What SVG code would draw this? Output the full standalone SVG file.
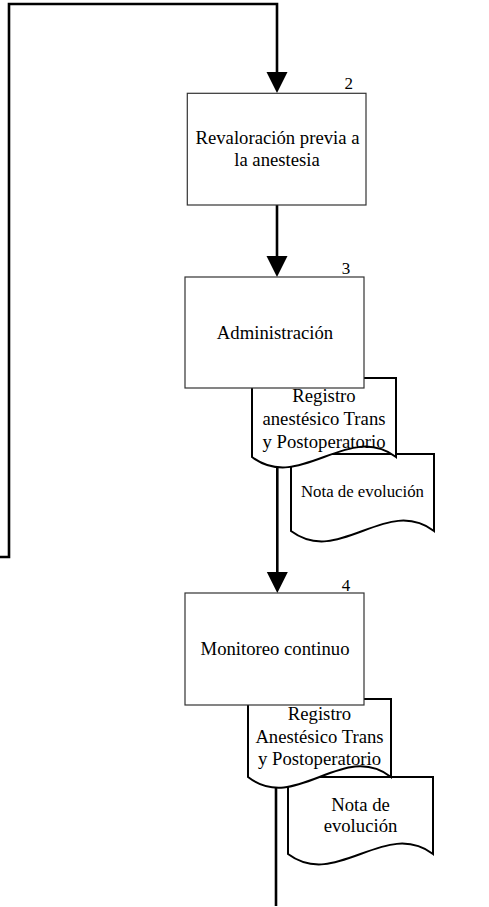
<svg xmlns="http://www.w3.org/2000/svg" width="489" height="907" viewBox="0 0 489 907">
  <style>
    .box { fill: #ffffff; stroke: #333333; stroke-width: 1.2; }
    .doc { fill: #ffffff; stroke: #000000; stroke-width: 2; stroke-linejoin: miter; }
    .flow { fill: none; stroke: #000000; stroke-width: 2.6; }
    .lbl { font-family: "Liberation Serif", "Times New Roman", serif; font-size: 18.7px; fill: #000000; text-anchor: middle; }
    .small { font-size: 16.8px; }
    .num { font-family: "Liberation Serif", "Times New Roman", serif; font-size: 17px; fill: #000000; text-anchor: middle; }
  </style>
  <defs>
    <marker id="arrow" markerUnits="userSpaceOnUse" markerWidth="22" markerHeight="22" refX="0" refY="10.5" orient="auto" viewBox="0 0 22 21">
      <path d="M0,0 L21,10.5 L0,21 Z" fill="#000000"/>
    </marker>
  </defs>

  <!-- connectors -->
  <g id="connectors">
    <polyline class="flow" points="0,557 9,557 9,4 277,4 277,72" marker-end="url(#arrow)"/>
    <line class="flow" x1="277" y1="205" x2="277" y2="256" marker-end="url(#arrow)"/>
    <line class="flow" x1="277.3" y1="388" x2="277.3" y2="572" marker-end="url(#arrow)"/>
    <line class="flow" x1="276" y1="705" x2="276" y2="906"/>
  </g>

  <!-- step 2 -->
  <g id="step2">
    <rect class="box" x="187.3" y="93.3" width="178.7" height="111.7"/>
    <text class="num" x="348.8" y="89">2</text>
    <text class="lbl" x="277.5" y="144">Revaloración previa a</text>
    <text class="lbl" x="277" y="166">la anestesia</text>
  </g>

  <!-- documents for step 3 -->
  <g id="nota1">
    <path class="doc" d="M291,531 L291,454 L434,454 L434,531 C386,495 339,567 291,531 Z"/>
    <text class="lbl small" x="362.5" y="497">Nota de evolución</text>
  </g>
  <g id="registro1">
    <path class="doc" d="M252,457 L252,378 L396,378 L396,457 C348,421 300,493 252,457 Z"/>
    <text class="lbl" x="324" y="402">Registro</text>
    <text class="lbl" x="324" y="425">anestésico Trans</text>
    <text class="lbl" x="324" y="447.5">y Postoperatorio</text>
  </g>

  <!-- step 3 -->
  <g id="step3">
    <rect class="box" x="185" y="277" width="179" height="111"/>
    <text class="num" x="346" y="274">3</text>
    <text class="lbl" x="275" y="339">Administración</text>
  </g>

  <!-- documents for step 4 -->
  <g id="nota2">
    <path class="doc" d="M288,854 L288,777 L433,777 L433,854 C385,818 336,890 288,854 Z"/>
    <text class="lbl" x="360.5" y="811">Nota de</text>
    <text class="lbl" x="360.5" y="832">evolución</text>
  </g>
  <g id="registro2">
    <path class="doc" d="M248,777 L248,699 L391,699 L391,777 C343,740 296,814 248,777 Z"/>
    <text class="lbl" x="319.5" y="719.5">Registro</text>
    <text class="lbl" x="319.5" y="742.5">Anestésico Trans</text>
    <text class="lbl" x="319.5" y="764.5">y Postoperatorio</text>
  </g>

  <!-- step 4 -->
  <g id="step4">
    <rect class="box" x="185" y="593" width="179" height="112"/>
    <text class="num" x="346" y="590.5">4</text>
    <text class="lbl" x="275" y="655">Monitoreo continuo</text>
  </g>
</svg>
